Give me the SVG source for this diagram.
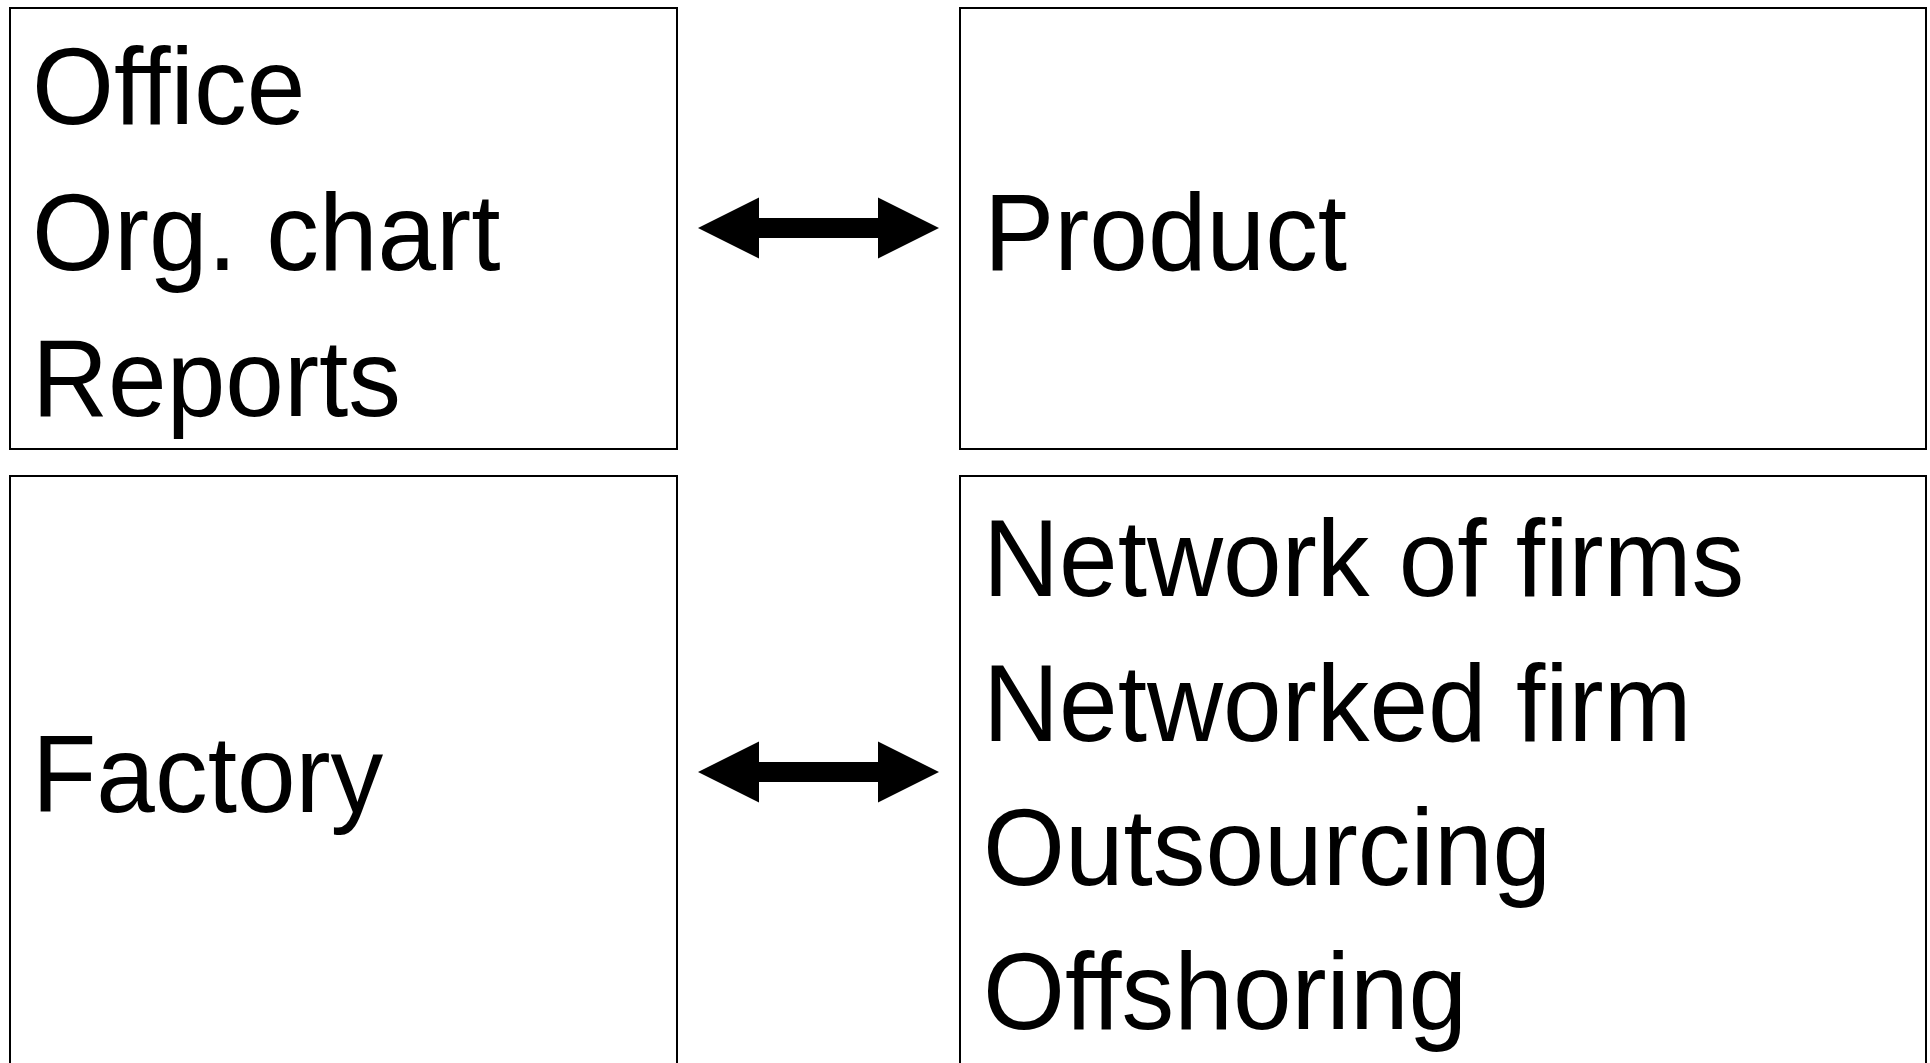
<svg xmlns="http://www.w3.org/2000/svg" width="1930" height="1063" viewBox="0 0 1930 1063">
<style>
.box{fill:#fff;stroke:#000;stroke-width:2}
.t{font-family:"Liberation Sans",Arial,sans-serif;font-size:110px;fill:#000}
.arr{fill:#000}
</style>
<rect width="1930" height="1063" fill="#fff"/>
<g id="office">
<rect class="box" x="10" y="8" width="667" height="441"/>
<text class="t" transform="translate(32,124) scale(0.958,1)">Office</text>
<text class="t" transform="translate(32,270) scale(0.958,1)">Org. chart</text>
<text class="t" transform="translate(32,416) scale(0.958,1)">Reports</text>
</g>
<g id="product">
<rect class="box" x="960" y="8" width="966" height="441"/>
<text class="t" transform="translate(984,270) scale(0.958,1)">Product</text>
</g>
<g id="factory">
<rect class="box" x="10" y="476" width="667" height="600"/>
<text class="t" transform="translate(32,812) scale(0.958,1)">Factory</text>
</g>
<g id="network">
<rect class="box" x="960" y="476" width="966" height="600"/>
<text class="t" transform="translate(983,596) scale(0.958,1)">Network of firms</text>
<text class="t" transform="translate(983,741) scale(0.958,1)">Networked firm</text>
<text class="t" transform="translate(983,885) scale(0.958,1)">Outsourcing</text>
<text class="t" transform="translate(983,1029) scale(0.958,1)">Offshoring</text>
</g>
<g id="connectors">
<polygon class="arr" points="698,228 759,197.5 759,218 878,218 878,197.5 939,228 878,258.5 878,238 759,238 759,258.5"/>
<polygon class="arr" points="698,772 759,741.5 759,762 878,762 878,741.5 939,772 878,802.5 878,782 759,782 759,802.5"/>
</g>
</svg>
